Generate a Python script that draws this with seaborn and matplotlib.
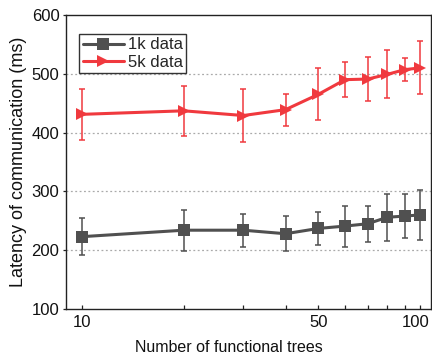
import matplotlib
matplotlib.use("Agg")
import matplotlib.pyplot as plt
import matplotlib.transforms as mtransforms
import seaborn as sns
import pandas as pd
import numpy as np
from matplotlib.ticker import FixedLocator, NullFormatter, FixedFormatter

trees = [10, 20, 30, 40, 50, 60, 70, 80, 90, 100]
lat_1k = [223, 234, 234, 228, 237, 241, 245, 256, 258, 260]
err_1k = [32, 35, 28, 30, 28, 35, 31, 40, 38, 42]
lat_5k = [431, 437, 429, 439, 465, 490, 491, 499, 507, 510]
err_5k = [43, 42, 45, 27, 44, 30, 38, 41, 20, 45]
series_names = ["1k data", "5k data"]
xtick_labels = ["10", "50", "100"]
ytick_values = [100, 200, 300, 400, 500, 600]

sns.set_theme(style="white")
plt.rcParams['font.family'] = ['Liberation Sans', 'DejaVu Sans']

df = pd.DataFrame({
    "trees": trees * 2,
    "latency": lat_1k + lat_5k,
    "series": [series_names[0]] * len(trees) + [series_names[1]] * len(trees),
})

gray = "#505050"
red = "#f0393e"
fs = 12

fig = plt.figure(figsize=(4.32, 3.56), dpi=100)
ax = fig.add_axes([0.152, 0.132, 0.846, 0.826])

ax.errorbar(trees, lat_1k, yerr=err_1k, fmt="none", ecolor=gray, elinewidth=1.1, capsize=2.5, capthick=1.1, zorder=2)
ax.errorbar(trees, lat_5k, yerr=err_5k, fmt="none", ecolor=red, elinewidth=1.1, capsize=2.5, capthick=1.1, zorder=2)

sns.lineplot(data=df, x="trees", y="latency", hue="series", style="series",
             palette=[gray, red], markers=["s", ">"], dashes=False,
             linewidth=2.2, markersize=9, markeredgewidth=0, ax=ax, zorder=3)

ax.set_xscale("log")
ax.set_xlim(8.95, 107.8)
ax.set_ylim(100, 600)
ax.xaxis.set_major_locator(FixedLocator([10, 50, 100]))
ax.xaxis.set_major_formatter(FixedFormatter(xtick_labels))
ax.xaxis.set_minor_locator(FixedLocator([20, 30, 40, 60, 70, 80, 90]))
ax.xaxis.set_minor_formatter(NullFormatter())
ax.set_yticks(ytick_values)
ax.tick_params(axis="x", which="both", direction="in", length=3, width=0.9, color="#222222",
               bottom=True, labelsize=fs, pad=4)
ax.tick_params(axis="y", which="both", direction="out", length=2.5, width=0.9, color="#222222",
               left=True, labelsize=fs, pad=2)
for lab in ax.get_xticklabels() + ax.get_yticklabels():
    lab.set_color("#111111")
# nudge the last x label slightly left so it stays inside the figure
last = ax.get_xticklabels()[-1]
last.set_transform(last.get_transform() + mtransforms.ScaledTranslation(-4 / 100, 0, fig.dpi_scale_trans))

for y in [200, 300, 400, 500]:
    ax.axhline(y, color="#aaaaaa", linestyle=(0, (1.5, 2)), linewidth=0.9, zorder=1)

for s in ax.spines.values():
    s.set_color("#222222")
    s.set_linewidth(1.0)

ax.set_xlabel("Number of functional trees", fontsize=11.5, color="#111111")
ax.set_ylabel("Latency of communication (ms)", fontsize=13, color="#111111")
ax.xaxis.set_label_coords(0.447, -0.105)
ax.yaxis.set_label_coords(-0.105, 0.5)

leg = ax.legend(loc="upper left", bbox_to_anchor=(0.037, 0.935), frameon=True, fancybox=False,
                fontsize=fs, handlelength=2.5, borderpad=0.2, labelspacing=0.15,
                handletextpad=0.2, borderaxespad=0.0)
leg.get_frame().set_edgecolor("black")
leg.get_frame().set_linewidth(1.0)
leg.set_title(None)

fig.savefig("out.png", dpi=100)
